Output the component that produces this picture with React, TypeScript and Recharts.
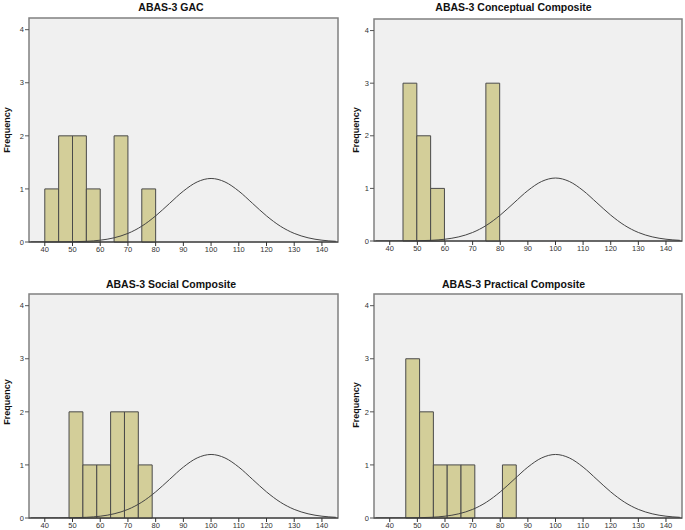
import { ComposedChart, Line, ReferenceArea, XAxis, YAxis } from "recharts";

// bin starts (width 5) and counts
const BIN_WIDTH = 5;

const gacBins = [40, 45, 50, 55, 65, 75];
const gacCounts = [1, 2, 2, 1, 2, 1];

const conceptualBins = [44.8, 49.8, 54.8, 74.8];
const conceptualCounts = [3, 2, 1, 3];

const socialBins = [48.75, 53.75, 58.75, 63.75, 68.75, 73.75];
const socialCounts = [2, 1, 1, 2, 2, 1];

const practicalBins = [45.8, 50.8, 55.8, 60.8, 65.8, 80.8];
const practicalCounts = [3, 2, 1, 1, 1, 1];

// normal curve heights (same in all four panels)
const curveX = [35, 40, 45, 50, 55, 60, 65, 70, 75, 80, 85, 90, 95, 100, 105, 110, 115, 120, 125, 130, 135, 140, 145];
const curveY = [0, 0.0003, 0.001, 0.005, 0.013, 0.034, 0.079, 0.162, 0.298, 0.492, 0.726, 0.959, 1.132, 1.197, 1.132, 0.959, 0.726, 0.492, 0.298, 0.162, 0.079, 0.034, 0.013];

const xTicks = [40, 50, 60, 70, 80, 90, 100, 110, 120, 130, 140];
const yTicks = [0, 1, 2, 3, 4];

const X_DOMAIN: [number, number] = [34.3, 145.8];
const Y_MAX = 4.22;

const curveData = curveX.map((x, i) => ({ x, y: curveY[i] }));

const FONT = "'Liberation Sans', Arial, sans-serif";

type PanelProps = {
  title: string;
  bins: number[];
  counts: number[];
  left: number;
  top: number;
  width: number;
  height: number;
  axisWidth: number;
  marginTop: number;
  marginRight: number;
  xAxisHeight: number;
  titleTop: number;
  labelX: number;
  labelY: number;
};

function Histogram(p: PanelProps) {
  return (
    <div style={{ position: "absolute", left: p.left, top: p.top, width: p.width, height: p.height }}>
      <div
        style={{
          position: "absolute",
          left: 0,
          top: p.titleTop,
          width: p.width,
          textAlign: "center",
          fontFamily: FONT,
          fontWeight: "bold",
          fontSize: 10.5,
          lineHeight: "12px",
          color: "#111",
        }}
      >
        {p.title}
      </div>
      <div
        style={{
          position: "absolute",
          left: p.labelX - 50,
          top: p.labelY - 6,
          width: 100,
          height: 12,
          textAlign: "center",
          fontFamily: FONT,
          fontWeight: "bold",
          fontSize: 9,
          lineHeight: "12px",
          color: "#111",
          transform: "rotate(-90deg)",
        }}
      >
        Frequency
      </div>
      <ComposedChart
        width={p.width}
        height={p.height}
        data={curveData}
        margin={{ top: p.marginTop, right: p.marginRight, bottom: 0, left: 0 }}
      >
        <XAxis
          dataKey="x"
          type="number"
          domain={X_DOMAIN}
          ticks={xTicks}
          allowDataOverflow
          height={p.xAxisHeight}
          tickSize={4}
          tickMargin={1}
          stroke="#333"
          tick={{ fontSize: 7.5, fill: "#333", fontFamily: FONT }}
        />
        <YAxis
          type="number"
          domain={[0, Y_MAX]}
          ticks={yTicks}
          allowDataOverflow
          width={p.axisWidth}
          axisLine={false}
          tickSize={4}
          tickMargin={1}
          stroke="#555"
          tick={{ fontSize: 7.5, fill: "#333", fontFamily: FONT }}
        />
        <ReferenceArea
          x1={X_DOMAIN[0]}
          x2={X_DOMAIN[1]}
          y1={0}
          y2={Y_MAX}
          fill="#f0f0f0"
          fillOpacity={1}
          stroke="#808080"
          strokeWidth={1.5}
        />
        {p.bins.map((b, i) => (
          <ReferenceArea
            key={b}
            x1={b}
            x2={b + BIN_WIDTH}
            y1={0}
            y2={p.counts[i]}
            fill="#d3ce99"
            fillOpacity={1}
            stroke="#4a4a4a"
            strokeWidth={1}
          />
        ))}
        <Line
          dataKey="y"
          type="monotone"
          stroke="#444"
          strokeWidth={1}
          dot={false}
          activeDot={false}
          isAnimationActive={false}
        />
      </ComposedChart>
    </div>
  );
}

export default function App() {
  return (
    <div style={{ position: "absolute", left: 0, top: 0, width: 685, height: 530, background: "#fff" }}>
      <Histogram
        title="ABAS-3 GAC"
        bins={gacBins}
        counts={gacCounts}
        left={0}
        top={0}
        width={342}
        height={265}
        axisWidth={29}
        marginTop={18}
        marginRight={4}
        xAxisHeight={23}
        titleTop={1}
        labelX={7}
        labelY={130}
      />
      <Histogram
        title="ABAS-3 Conceptual Composite"
        bins={conceptualBins}
        counts={conceptualCounts}
        left={342}
        top={0}
        width={343}
        height={265}
        axisWidth={32}
        marginTop={19}
        marginRight={3}
        xAxisHeight={24}
        titleTop={1}
        labelX={14}
        labelY={130}
      />
      <Histogram
        title="ABAS-3 Social Composite"
        bins={socialBins}
        counts={socialCounts}
        left={0}
        top={268}
        width={342}
        height={262}
        axisWidth={29}
        marginTop={26}
        marginRight={4}
        xAxisHeight={12}
        titleTop={10}
        labelX={7}
        labelY={134}
      />
      <Histogram
        title="ABAS-3 Practical Composite"
        bins={practicalBins}
        counts={practicalCounts}
        left={342}
        top={268}
        width={343}
        height={262}
        axisWidth={32}
        marginTop={26}
        marginRight={3}
        xAxisHeight={12}
        titleTop={10}
        labelX={14}
        labelY={137}
      />
    </div>
  );
}
